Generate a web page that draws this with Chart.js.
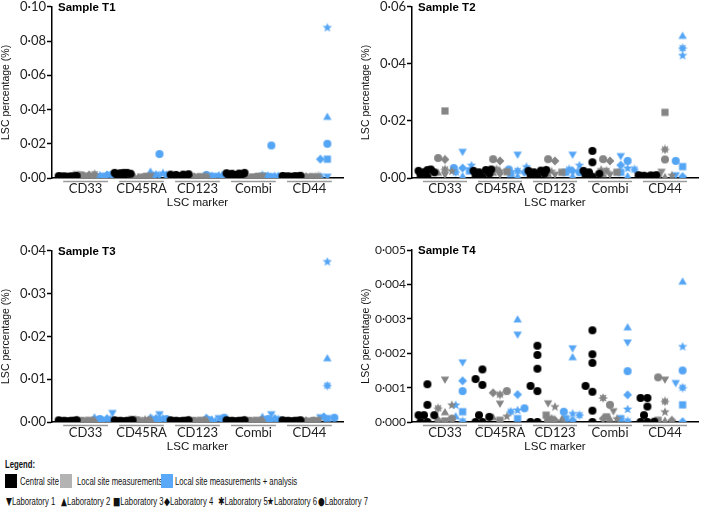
<!DOCTYPE html>
<html>
<head>
<meta charset="utf-8">
<script src="https://cdn.jsdelivr.net/npm/chart.js@4.4.1/dist/chart.umd.min.js"></script>
<style>
  body { margin: 0; background: #fff; width: 709px; height: 507px; position: relative; overflow: hidden;
         font-family: "Liberation Sans", Arial, sans-serif; color: #111; }
  .panel { position: absolute; }
  .lg { position: absolute; white-space: nowrap; font-size: 11px; line-height: 14px; transform: scaleX(0.7); transform-origin: left center; }
  .box { position: absolute; width: 12px; height: 14px; }
</style>
</head>
<body>
<div class="panel" style="left:0;top:-2px;width:354px;height:212px"><canvas id="t1"></canvas></div>
<div class="panel" style="left:360px;top:-2px;width:349px;height:212px"><canvas id="t2"></canvas></div>
<div class="panel" style="left:0;top:242px;width:354px;height:212px"><canvas id="t3"></canvas></div>
<div class="panel" style="left:360px;top:242px;width:349px;height:212px"><canvas id="t4"></canvas></div>

<div class="lg" style="left:5px;top:457px;font-weight:bold">Legend:</div>
<div class="box" style="left:5px;top:474px;background:#000"></div>
<div class="lg" style="left:20px;top:474px">Central site</div>
<div class="box" style="left:60px;top:474px;background:#b3b3b3"></div>
<div class="lg" style="left:77px;top:474px">Local site measurements</div>
<div class="box" style="left:161px;top:474px;background:#5aa8f8"></div>
<div class="lg" style="left:175px;top:474px">Local site measurements + analysis</div>
<div id="labLegend"></div>

<script>
// LSC marker categories and groups
var categories = ['CD33', 'CD45RA', 'CD123', 'Combi', 'CD44'];
var groups = ['Central site', 'Local site measurements', 'Local site measurements + analysis'];
var labs = ['Laboratory 1', 'Laboratory 2', 'Laboratory 3', 'Laboratory 4', 'Laboratory 5', 'Laboratory 6', 'Laboratory 7'];
var labSymbols = ['\u25BC', '\u25B2', '\u25A0', '\u25C6', '\u2731', '\u2605', '\u25CF'];

// values per marker (rows) and laboratory (columns), LSC percentage
var t1Central  = [[0.001,0.001,0.0008,0.0012,0.001,0.0009,0.0011],
                  [0.003,0.0025,0.003,0.002,0.0028,0.0015,0.003],
                  [0.002,0.0015,0.002,0.001,0.0012,0.0018,0.0022],
                  [0.003,0.0025,0.002,0.0028,0.0018,0.0022,0.0026],
                  [0.001,0.0012,0.0008,0.001,0.0009,0.0011,0.0013]];
var t1Local    = [[0.002,0.0015,0.001,0.0018,0.0022,0.0012,0.0016],
                  [0.001,0.0008,0.0005,0.0007,0.0009,0.0006,0.0008],
                  [0.0008,0.0006,0.0005,0.0007,0.0009,0.0006,0.0008],
                  [0.001,0.0008,0.0006,0.0007,0.0009,0.0006,0.0008],
                  [0.0008,0.0006,0.0005,0.0007,0.0009,0.0006,0.0008]];
var t1Analysis = [[0.0015,0.002,0.001,0.0018,0.0012,0.0016,0.002],
                  [0.001,0.004,0.001,0.0015,0.002,0.003,0.014],
                  [0.001,0.0015,0.001,0.0012,0.002,0.0016,0.0018],
                  [0.001,0.0015,0.0008,0.001,0.0012,0.002,0.019],
                  [0.0005,0.036,0.011,0.011,0.0008,0.088,0.020]];

var t2Central  = [[0.002,0.0025,0.003,0.001,0.0005,0.002,0.0028],
                  [0.002,0.0025,0.003,0.001,0.0005,0.0015,0.0028],
                  [0.002,0.0025,0.0028,0.001,0.0005,0.0015,0.0026],
                  [0.0095,0.0055,0.002,0.001,0.0015,0.0005,0.0025],
                  [0.001,0.0008,0.0005,0.0007,0.0009,0.0006,0.001]];
var t2Local    = [[0.001,0.002,0.0235,0.0065,0.003,0.0025,0.007],
                  [0.001,0.002,0.0022,0.006,0.003,0.0025,0.0066],
                  [0.001,0.0015,0.002,0.006,0.0028,0.0024,0.0066],
                  [0.001,0.0015,0.002,0.006,0.0025,0.003,0.0066],
                  [0.002,0.0005,0.023,0.0008,0.010,0.001,0.0065]];
var t2Analysis = [[0.009,0.0008,0.0025,0.0035,0.002,0.0045,0.0035],
                  [0.008,0.0008,0.0015,0.002,0.0025,0.004,0.003],
                  [0.008,0.0008,0.002,0.0025,0.003,0.0045,0.002],
                  [0.0075,0.0008,0.002,0.0045,0.003,0.0035,0.006],
                  [0.0008,0.050,0.004,0.0005,0.0455,0.043,0.006]];

var t3Central  = [[0.0003,0.0004,0.0002,0.0003,0.0004,0.0002,0.0003],
                  [0.0003,0.0004,0.0002,0.0003,0.0004,0.0002,0.0003],
                  [0.0003,0.0004,0.0002,0.0003,0.0004,0.0002,0.0003],
                  [0.0003,0.0004,0.0002,0.0003,0.0004,0.0002,0.0003],
                  [0.0003,0.0004,0.0002,0.0003,0.0004,0.0002,0.0003]];
var t3Local    = [[0.0004,0.0005,0.0002,0.0003,0.0004,0.0002,0.0003],
                  [0.0006,0.0007,0.0003,0.0004,0.0005,0.0002,0.0004],
                  [0.0004,0.0006,0.0002,0.0003,0.0004,0.0002,0.0003],
                  [0.0004,0.0007,0.0002,0.0003,0.0004,0.0002,0.0003],
                  [0.0003,0.0004,0.0002,0.0003,0.0004,0.0002,0.0003]];
var t3Analysis = [[0.002,0.0012,0.0005,0.0008,0.0006,0.0004,0.0007],
                  [0.0017,0.0012,0.0005,0.0008,0.0006,0.0009,0.0007],
                  [0.0008,0.0007,0.0005,0.0009,0.0006,0.0004,0.001],
                  [0.0017,0.0013,0.0005,0.0008,0.0006,0.0004,0.0007],
                  [0.001,0.015,0.0008,0.0012,0.0085,0.0375,0.001]];

var t4Central  = [[0.0011,0.0005,0.0002,0.0002,0.0002,0,0],
                  [0.00153,0.00125,0.00108,0.0002,0.00015,0,0],
                  [0.00222,0.00195,0.00155,0.00105,0.0009,0,0],
                  [0.00267,0.00197,0.00172,0.00105,0.00088,0.00033,0],
                  [0.0007,0.0007,0.00045,0.0002,0.00001,0,0]];
var t4Local    = [[0.00122,0.0003,0.00003,0.00005,0.0004,0.0005,0.0001],
                  [0.00052,0.00015,0.00005,0.00085,0.0008,0.00017,0.0009],
                  [0.00053,0.0001,0.0002,0.00005,0.0001,0.00045,0.00005],
                  [0.0003,0.0001,0.00015,0.0001,0.0007,0.0001,0.0005],
                  [0.00122,0.00005,0.00005,0.00005,0.0006,0.0003,0.0013]];
var t4Analysis = [[0.00172,0.00018,0.0003,0.0012,0.00002,0.0005,0.0009],
                  [0.00253,0.003,0.0001,0.0008,0.0003,0.00035,0.0004],
                  [0.00213,0.0019,0.0001,0.00005,0.0002,0.00025,0.0003],
                  [0.0023,0.00277,0.0001,0.00079,0.00002,0.00038,0.00148],
                  [0.00112,0.0041,0.0005,0.00001,0.001,0.0022,0.0015]];

var groupColors = ['#000000', '#858585', '#55a5f5'];
var labShapes = ['triDown', 'triUp', 'square', 'diamond', 'asterisk', 'star', 'circle'];

function starPath(ctx, cx, cy, n, ro, ri, rot) {
  ctx.beginPath();
  for (var k = 0; k < n * 2; k++) {
    var r = k % 2 === 0 ? ro : ri;
    var a = rot + k * Math.PI / n;
    ctx.lineTo(cx + r * Math.sin(a), cy - r * Math.cos(a));
  }
  ctx.closePath();
}

function makeMarker(shape, color) {
  var c = document.createElement('canvas');
  c.width = 10; c.height = 10;
  var ctx = c.getContext('2d');
  ctx.fillStyle = color;
  ctx.beginPath();
  if (shape === 'triDown') { ctx.moveTo(0.8, 1.5); ctx.lineTo(9.2, 1.5); ctx.lineTo(5, 8.8); ctx.closePath(); }
  else if (shape === 'triUp') { ctx.moveTo(0.8, 8.5); ctx.lineTo(9.2, 8.5); ctx.lineTo(5, 1.2); ctx.closePath(); }
  else if (shape === 'square') { ctx.rect(1.4, 1.4, 7.2, 7.2); }
  else if (shape === 'diamond') { ctx.moveTo(5, 0.6); ctx.lineTo(9.4, 5); ctx.lineTo(5, 9.4); ctx.lineTo(0.6, 5); ctx.closePath(); }
  else if (shape === 'asterisk') { starPath(ctx, 5, 5, 8, 4.9, 2.7, 0); }
  else if (shape === 'star') { starPath(ctx, 5, 5.3, 5, 4.9, 2.1, 0); }
  else { ctx.arc(5, 5, 4, 0, Math.PI * 2); }
  ctx.fill();
  return c;
}

// spread points of one group sideways so they do not sit on top of each other
function swarm(vals, yMax) {
  var H = 172, unit = 56, d = 7;
  var order = vals.map(function(v, i) { return i; }).sort(function(a, b) { return vals[a] - vals[b]; });
  var placed = [], off = vals.map(function() { return 0; });
  var cands = [0, -7, 7, -3.5, 3.5, -9, 9];
  order.forEach(function(i) {
    var py = vals[i] / yMax * H;
    var best = 0, bestScore = -1;
    for (var j = 0; j < cands.length; j++) {
      var minD = Infinity;
      placed.forEach(function(p) { minD = Math.min(minD, Math.hypot(p.x - cands[j], p.y - py)); });
      if (minD >= d) { best = cands[j]; break; }
      if (minD > bestScore) { bestScore = minD; best = cands[j]; }
    }
    placed.push({ x: best, y: py });
    off[i] = best / unit;
  });
  return off;
}

var panelDecor = {
  id: 'panelDecor',
  afterDraw: function(chart, args, opts) {
    var ctx = chart.ctx, area = chart.chartArea, x = chart.scales.x;
    ctx.save();
    ctx.strokeStyle = '#9a9a9a';
    ctx.lineWidth = 1.5;
    categories.forEach(function(c, i) {
      ctx.beginPath();
      ctx.moveTo(x.getPixelForValue(i + 1 - 0.4), area.bottom + 3.5);
      ctx.lineTo(x.getPixelForValue(i + 1 + 0.4), area.bottom + 3.5);
      ctx.stroke();
    });
    ctx.fillStyle = '#000';
    ctx.font = 'bold 11.5px "Liberation Sans", Arial';
    ctx.textBaseline = 'middle';
    ctx.fillText(opts.title, area.left + 6, area.top + 1);
    ctx.restore();
  }
};

function makeChart(id, title, data, yMax, step, decimals, tickSize) {
  var datasets = [];
  data.forEach(function(groupData, g) {
    var offsets = groupData.map(function(row) { return swarm(row, yMax); });
    labs.forEach(function(lab, l) {
      datasets.push({
        label: groups[g] + ' - ' + lab,
        data: groupData.map(function(row, m) {
          return { x: m + 1 + (g - 1) * 0.32 + offsets[m][l], y: row[l] };
        }),
        pointStyle: makeMarker(g === 0 ? 'circle' : labShapes[l], groupColors[g]),
        pointRadius: 5,
        showLine: false
      });
    });
  });

  return new Chart(document.getElementById(id).getContext('2d'), {
    type: 'scatter',
    data: { datasets: datasets },
    plugins: [panelDecor],
    options: {
      responsive: true,
      maintainAspectRatio: false,
      animation: false,
      events: [],
      layout: { padding: { right: 11 } },
      plugins: { legend: { display: false }, tooltip: { enabled: false }, panelDecor: { title: title } },
      scales: {
        x: {
          type: 'linear', min: 0.4, max: 5.6,
          afterBuildTicks: function(scale) { scale.ticks = categories.map(function(c, i) { return { value: i + 1 }; }); },
          afterFit: function(scale) { scale.height = 32; },
          ticks: { autoSkip: false, maxRotation: 0, padding: 3, color: '#222',
                   font: { family: 'Lato', size: 13 },
                   callback: function(v) { return categories[v - 1]; } },
          grid: { display: false, drawTicks: false },
          border: { display: true, color: '#000', width: 1.5 },
          title: { display: true, text: 'LSC marker', color: '#111', padding: { top: 0, bottom: 0 },
                   font: { family: '"Liberation Sans", Arial', size: 11.5 } }
        },
        y: {
          min: 0, max: yMax,
          afterFit: function(scale) { scale.width = 52; },
          afterBuildTicks: function(scale) {
            var t = [];
            for (var v = 0; v <= yMax + 1e-9; v += step) t.push({ value: v });
            scale.ticks = t;
          },
          ticks: { padding: 1, color: '#222', font: { family: 'Lato', size: tickSize },
                   callback: function(v) { return v.toFixed(decimals).replace('.', '\u00B7'); } },
          grid: { drawOnChartArea: false, drawTicks: true, tickLength: 5, color: '#000', tickWidth: 1.5 },
          border: { display: true, color: '#000', width: 1.5 },
          title: { display: true, text: 'LSC percentage (%)', color: '#111', padding: { top: 0, bottom: 0 },
                   font: { family: '"Liberation Sans", Arial', size: 10.5 } }
        }
      }
    }
  });
}

makeChart('t1', 'Sample T1', [t1Central, t1Local, t1Analysis], 0.10, 0.02, 2, 13);
makeChart('t2', 'Sample T2', [t2Central, t2Local, t2Analysis], 0.06, 0.02, 2, 13);
makeChart('t3', 'Sample T3', [t3Central, t3Local, t3Analysis], 0.04, 0.01, 2, 13);
makeChart('t4', 'Sample T4', [t4Central, t4Local, t4Analysis], 0.005, 0.001, 3, 12);

// laboratory symbol legend row
var labX = [6, 61, 113, 164, 218, 267, 318];
var holder = document.getElementById('labLegend');
labs.forEach(function(lab, i) {
  var d = document.createElement('div');
  d.className = 'lg';
  d.style.left = labX[i] + 'px';
  d.style.top = '494px';
  d.innerHTML = '<span style="font-family:\'DejaVu Sans\';font-size:11px">' + labSymbols[i] + '</span>' + lab;
  holder.appendChild(d);
});
</script>
</body>
</html>
